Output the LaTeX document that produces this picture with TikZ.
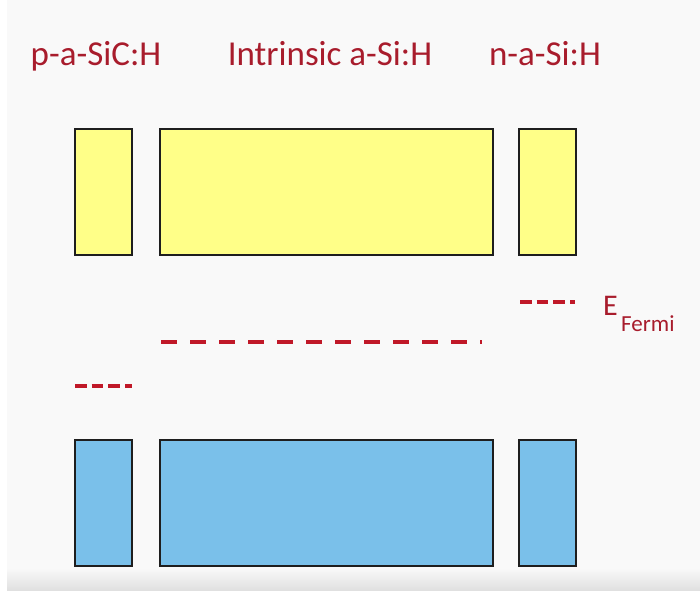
\documentclass[tikz,border=0pt]{standalone}
\usepackage{fontspec}
\setmainfont{Carlito}
\definecolor{bgc}{RGB}{249,249,249}
\definecolor{yfill}{RGB}{255,255,136}
\definecolor{bfill}{RGB}{122,192,234}
\definecolor{edge}{RGB}{30,30,30}
\definecolor{dred}{RGB}{192,24,40}
\definecolor{tred}{RGB}{168,28,44}
\tikzset{
  band/.style={draw=edge, line width=2pt, minimum width=#1, inner sep=0pt, minimum height=126pt},
  cband/.style={band=#1, fill=yfill},
  vband/.style={band=#1, fill=bfill},
  lbl/.style={text=tred, font=\fontsize{35}{40}\selectfont, anchor=base, inner sep=0pt},
  longdash/.style={dred, line width=3.5pt, dash pattern=on 16pt off 13pt},
  shortdash/.style={dred, line width=3.5pt, dash pattern=on 11.7pt off 5pt}
}
\begin{document}
\begin{tikzpicture}[x=1pt,y=-1pt]
\useasboundingbox (0,0) rectangle (700,590);
\fill[bgc] (0,0) rectangle (700,590);
\fill[white] (0,0) rectangle (7,590);
\shade[top color=bgc, bottom color={rgb,255:red,224;green,224;blue,224}] (7,568) rectangle (700,590);
% labels
\node[lbl] (lp) at (96,65) {p-a-SiC:H};
\node[lbl] (li) at (330,65) {Intrinsic a-Si:H};
\node[lbl] (ln) at (545,65) {n-a-Si:H};
% conduction bands
\node[cband=57pt] (cp) at (103.5,192) {};
\node[cband=333pt] (ci) at (326.5,192) {};
\node[cband=57pt] (cn) at (547.5,192) {};
% valence bands
\node[vband=57pt] (vp) at (103.5,503) {};
\node[vband=333pt] (vi) at (326.5,503) {};
\node[vband=57pt] (vn) at (547.5,503) {};
% Fermi levels
\coordinate (fp1) at (75,386); \coordinate (fp2) at (132,386);
\coordinate (fi1) at (161,342); \coordinate (fi2) at (482,342);
\coordinate (fn1) at (520,302); \coordinate (fn2) at (575,302);
\draw[shortdash] (fp1) -- (fp2);
\draw[longdash] (fi1) -- (fi2);
\draw[shortdash] (fn1) -- (fn2);
\node[text=tred, font=\fontsize{30}{34}\selectfont, anchor=base west, inner sep=0pt] (ef) at (603,315) {E};
\node[text=tred, font=\fontsize{23}{27}\selectfont, anchor=base west, inner sep=0pt] (efs) at (621,331) {Fermi};
\end{tikzpicture}
\end{document}
